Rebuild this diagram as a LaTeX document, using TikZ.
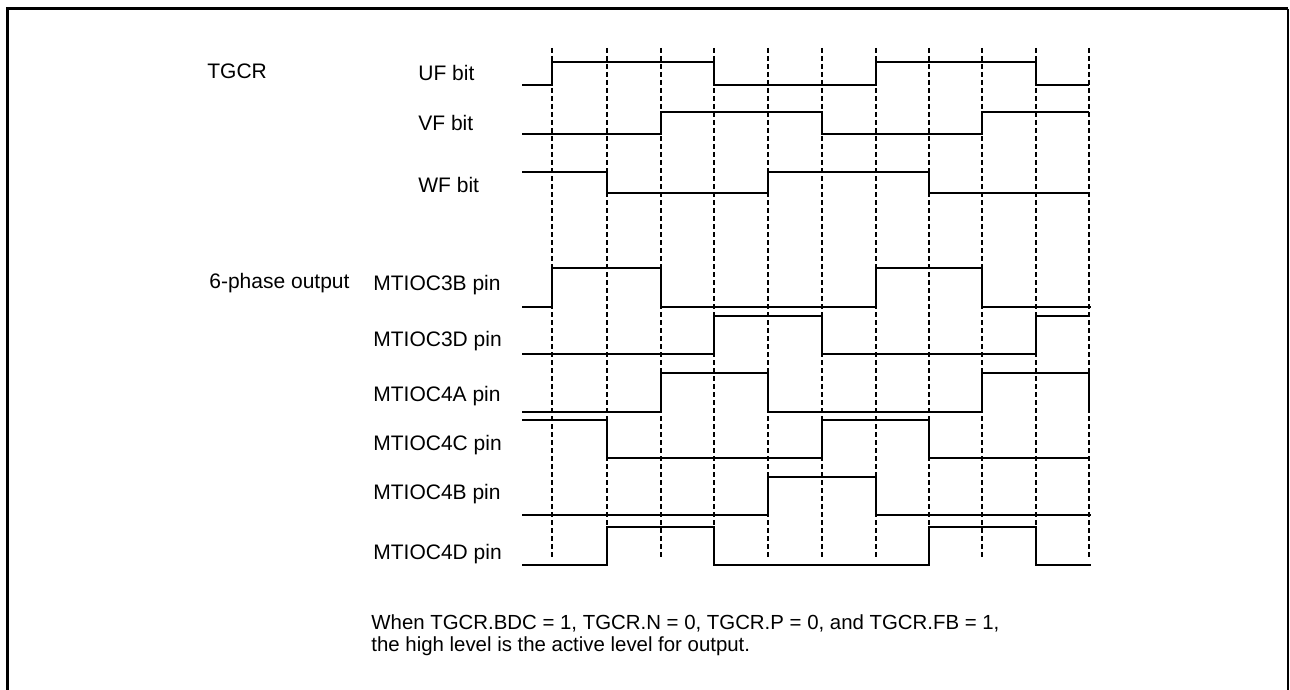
\documentclass[tikz,border=0pt]{standalone}
\usepackage{fontspec}
\setmainfont{Liberation Sans}
\begin{document}
\begin{tikzpicture}[x=0.5pt,y=-0.5pt,
  lbl/.style={anchor=base west,inner sep=0pt,font=\fontsize{10.5pt}{12pt}\selectfont},
  sig/.style={line width=1.3pt,line join=miter},
  grid/.style={line width=0.8pt,dash pattern=on 2.6pt off 1.4pt},
  frame/.style={line width=1.5pt}]
\useasboundingbox (0,0) rectangle (1290,690);
% frame (open at bottom)
\draw[frame] (7.5,690) -- (7.5,9) -- (1288,9);
\draw[line width=0.8pt] (1288,9) -- (1288,690);
% timing grid
\foreach \t [count=\i] in {552,607,661,714,768,822,876,929,982,1036,1089}
  \draw[grid] (\t,48) -- (\t,558);
% labels
\node[lbl] (tgcr) at (207,79) {TGCR};
\node[lbl] (uf) at (418,81) {UF bit};
\node[lbl] (vf) at (418,131) {VF bit};
\node[lbl] (wf) at (418,192) {WF bit};
\node[lbl] (six) at (209,288) {6-phase output};
\node[lbl] (p3b) at (373,290) {MTIOC3B pin};
\node[lbl] (p3d) at (373,346) {MTIOC3D pin};
\node[lbl] (p4a) at (373,401) {MTIOC4A pin};
\node[lbl] (p4c) at (373,450) {MTIOC4C pin};
\node[lbl] (p4b) at (373,499) {MTIOC4B pin};
\node[lbl] (p4d) at (373,559) {MTIOC4D pin};
\node[anchor=base west,inner sep=0pt,align=left,
  font=\fontsize{10.2pt}{11pt}\selectfont] (note) at (371,651)
  {When TGCR.BDC = 1, TGCR.N = 0, TGCR.P = 0, and TGCR.FB = 1,\\the high level is the active level for output.};
% UF
\draw[sig] (522,85) -- (552,85) -- (552,62) -- (714,62) -- (714,85) -- (876,85) -- (876,62) -- (1036,62) -- (1036,85) -- (1089,85);
% VF
\draw[sig] (522,134) -- (661,134) -- (661,112) -- (822,112) -- (822,134) -- (982,134) -- (982,112) -- (1089,112);
% WF
\draw[sig] (522,172) -- (607,172) -- (607,193) -- (768,193) -- (768,172) -- (929,172) -- (929,193) -- (1089,193);
% MTIOC3B
\draw[sig] (522,307) -- (552,307) -- (552,268) -- (661,268) -- (661,307) -- (876,307) -- (876,268) -- (982,268) -- (982,307) -- (1091,307);
% MTIOC3D
\draw[sig] (522,354) -- (714,354) -- (714,316) -- (822,316) -- (822,354) -- (1036,354) -- (1036,316) -- (1089,316);
% MTIOC4A
\draw[sig] (522,412) -- (661,412) -- (661,373) -- (768,373) -- (768,412) -- (982,412) -- (982,373) -- (1089,373) -- (1089,412);
% MTIOC4C
\draw[sig] (522,420) -- (607,420) -- (607,458) -- (822,458) -- (822,420) -- (929,420) -- (929,458) -- (1089,458);
% MTIOC4B
\draw[sig] (522,515) -- (768,515) -- (768,477) -- (876,477) -- (876,515) -- (1091,515);
% MTIOC4D
\draw[sig] (522,565) -- (607,565) -- (607,527) -- (714,527) -- (714,565) -- (929,565) -- (929,527) -- (1036,527) -- (1036,565) -- (1091,565);
\end{tikzpicture}
\end{document}
